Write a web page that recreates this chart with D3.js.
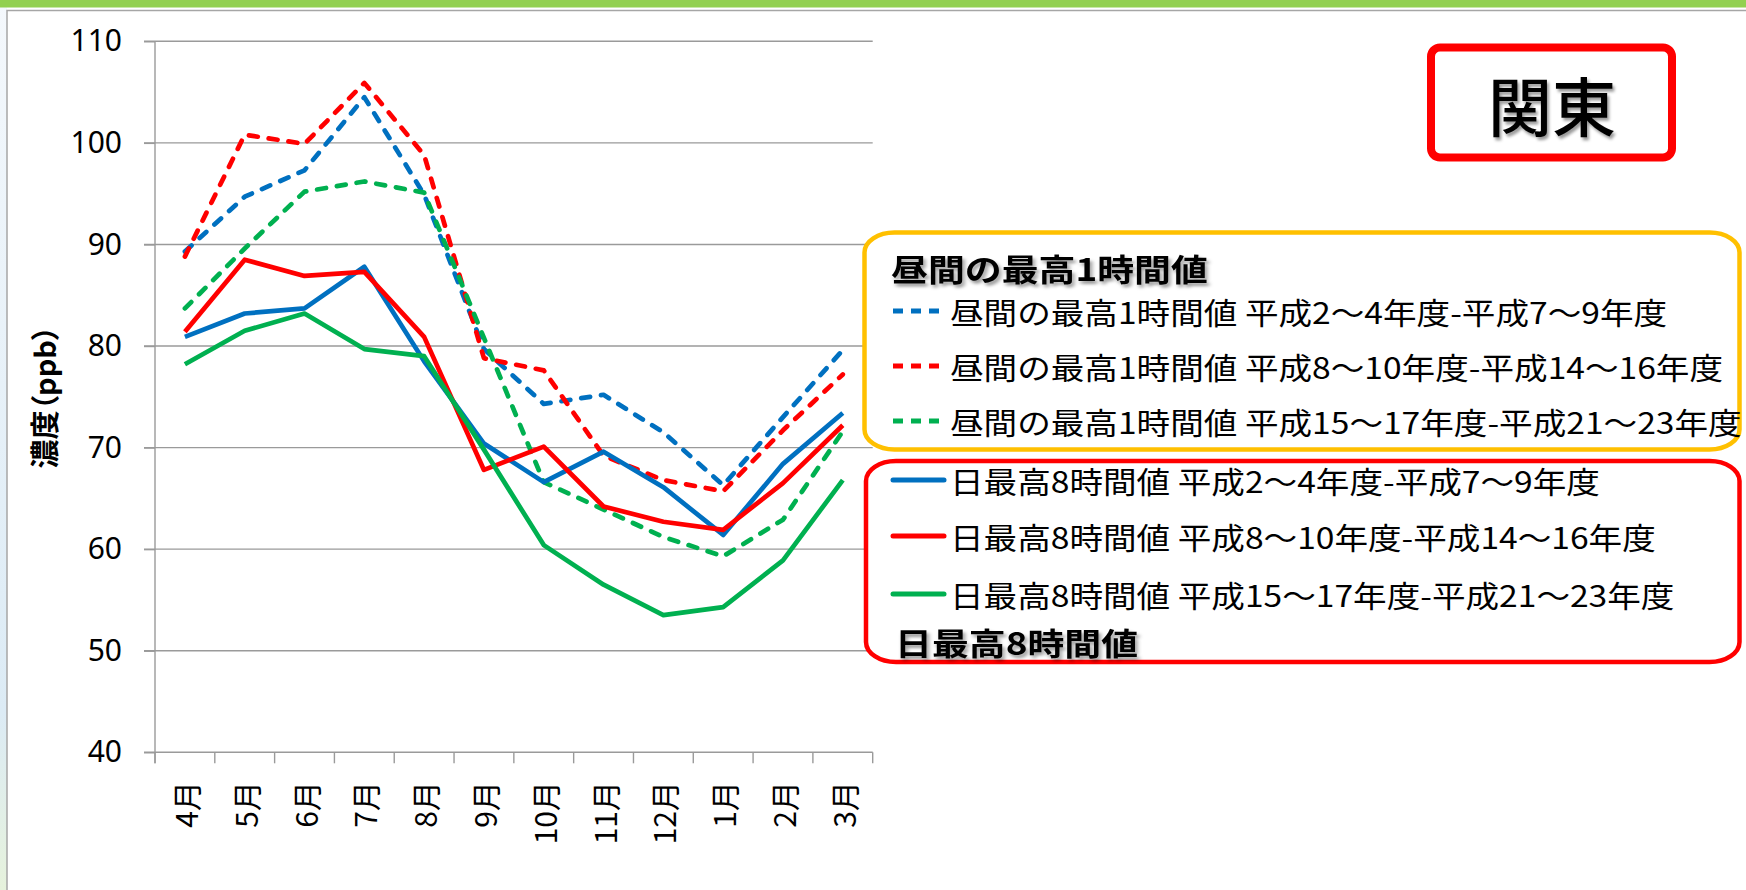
<!DOCTYPE html>
<html>
<head>
<meta charset="utf-8">
<script src="https://cdn.jsdelivr.net/npm/d3@7"></script>
<style>
  body { margin: 0; background: #fff; }
  svg { display: block; }
</style>
</head>
<body>
<script>
// months on the x axis (fiscal year order)
const months = ['4月', '5月', '6月', '7月', '8月', '9月', '10月', '11月', '12月', '1月', '2月', '3月'];

// 昼間の最高1時間値 (dashed)
const day1hH2to9 = [89.3, 94.7, 97.3, 104.5, 94.9, 79.7, 74.3, 75.2, 71.5, 66.3, 73.0, 79.6];
const day1hH8to16 = [88.8, 100.8, 99.9, 105.9, 98.8, 78.8, 77.6, 69.2, 66.8, 65.7, 71.7, 77.2];
const day1hH15to23 = [83.7, 89.6, 95.2, 96.2, 95.1, 80.8, 66.6, 63.9, 61.2, 59.3, 62.9, 71.6];

// 日最高8時間値 (solid)
const max8hH2to9 = [80.9, 83.2, 83.7, 87.8, 78.5, 70.4, 66.6, 69.6, 66.1, 61.4, 68.4, 73.4];
const max8hH8to16 = [81.4, 88.5, 86.9, 87.3, 80.9, 67.8, 70.1, 64.2, 62.7, 61.9, 66.5, 72.2];
const max8hH15to23 = [78.2, 81.5, 83.2, 79.7, 79.0, 69.8, 60.4, 56.5, 53.5, 54.3, 58.9, 66.8];

const yTicks = [40, 50, 60, 70, 80, 90, 100, 110];

const dayLabels = ['昼間の最高1時間値 平成2～4年度-平成7～9年度',
                   '昼間の最高1時間値 平成8～10年度-平成14～16年度',
                   '昼間の最高1時間値 平成15～17年度-平成21～23年度'];
const maxLabels = ['日最高8時間値 平成2～4年度-平成7～9年度',
                   '日最高8時間値 平成8～10年度-平成14～16年度',
                   '日最高8時間値 平成15～17年度-平成21～23年度'];
const colors = ['#0070C0', '#FF0000', '#00B050'];

const width = 1746, height = 890;
const plotLeft = 155, plotRight = 872.7, plotTop = 41.3, plotBottom = 752.3;
const cjk = '"Noto Sans CJK JP", "Noto Sans", sans-serif';

const svg = d3.select('body')
              .append('svg')
              .attr('width', width)
              .attr('height', height);

const defs = svg.append('defs');
defs.append('filter')
    .attr('id', 'shadow')
    .attr('x', '-10%').attr('y', '-30%').attr('width', '130%').attr('height', '160%')
    .append('feDropShadow')
    .attr('dx', 2).attr('dy', 3).attr('stdDeviation', 1.6)
    .attr('flood-color', '#000').attr('flood-opacity', 0.4);

const deco = defs.append('linearGradient').attr('id', 'deco').attr('x1', 0).attr('y1', 0).attr('x2', 0).attr('y2', 1);
deco.append('stop').attr('offset', '0%').attr('stop-color', '#f4f8fc');
deco.append('stop').attr('offset', '80%').attr('stop-color', '#dcebf5');
deco.append('stop').attr('offset', '100%').attr('stop-color', '#e6f2dc');

// slide background bits
svg.append('rect').attr('x', 0).attr('y', 0).attr('width', 7).attr('height', height).attr('fill', 'url(#deco)');
svg.append('rect').attr('x', 0).attr('y', 0).attr('width', width).attr('height', 7.5).attr('fill', '#92D050');
svg.append('rect').attr('x', 7).attr('y', 10.5).attr('width', width + 10).attr('height', height)
    .attr('fill', '#fff').attr('stroke', '#a6a6a6').attr('stroke-width', 1.5);

const x = d3.scaleBand()
            .domain(months)
            .range([plotLeft, plotRight])
            .padding(0);

const y = d3.scaleLinear()
            .domain([40, 110])
            .range([plotBottom, plotTop]);

// gridlines
svg.append('g')
    .selectAll('line')
    .data(yTicks)
    .enter()
    .append('line')
    .attr('x1', plotLeft - 11)
    .attr('x2', plotRight)
    .attr('y1', (d) => y(d))
    .attr('y2', (d) => y(d))
    .attr('stroke', '#9a9a9a')
    .attr('stroke-width', 1.4);

// y axis
const yAxis = svg.append('g')
    .attr('transform', 'translate(' + plotLeft + ',0)')
    .call(d3.axisLeft(y).tickValues(yTicks).tickSize(11).tickPadding(22));
yAxis.select('.domain').remove();
yAxis.selectAll('line').attr('stroke', '#9a9a9a').attr('stroke-width', 1.4);
yAxis.selectAll('text')
    .attr('fill', '#000')
    .style('font-family', '"Noto Sans", sans-serif')
    .style('font-size', '30px');

svg.append('line')
    .attr('x1', plotLeft).attr('x2', plotLeft)
    .attr('y1', plotTop).attr('y2', plotBottom + 11)
    .attr('stroke', '#9a9a9a').attr('stroke-width', 1.4);

// x axis ticks on band edges
svg.append('g')
    .selectAll('line')
    .data(months.concat(['end']))
    .enter()
    .append('line')
    .attr('x1', (d) => d === 'end' ? plotRight : x(d))
    .attr('x2', (d) => d === 'end' ? plotRight : x(d))
    .attr('y1', plotBottom)
    .attr('y2', plotBottom + 11)
    .attr('stroke', '#9a9a9a')
    .attr('stroke-width', 1.4);

svg.append('g')
    .selectAll('text')
    .data(months)
    .enter()
    .append('text')
    .attr('transform', (d) => 'translate(' + (x(d) + x.bandwidth() / 2) + ',' + 781 + ') rotate(-90)')
    .attr('text-anchor', 'end')
    .attr('dominant-baseline', 'central')
    .style('font-family', cjk)
    .style('font-size', '30px')
    .text((d) => d);

// y axis title
svg.append('text')
    .attr('transform', 'translate(43,397) rotate(-90)')
    .attr('text-anchor', 'middle')
    .attr('dominant-baseline', 'central')
    .style('font-family', cjk)
    .style('font-weight', 'bold')
    .style('font-size', '29px')
    .style('font-feature-settings', '"palt" 1')
    .text('濃度（ppb）');

// lines
const line = d3.line()
               .x((d, i) => x(months[i]) + x.bandwidth() / 2)
               .y((d) => y(d));

const series = [
    { values: day1hH2to9, color: colors[0], dash: true },
    { values: day1hH8to16, color: colors[1], dash: true },
    { values: day1hH15to23, color: colors[2], dash: true },
    { values: max8hH2to9, color: colors[0], dash: false },
    { values: max8hH8to16, color: colors[1], dash: false },
    { values: max8hH15to23, color: colors[2], dash: false }
];

svg.append('g')
    .selectAll('path')
    .data(series)
    .enter()
    .append('path')
    .attr('d', (d) => line(d.values))
    .attr('fill', 'none')
    .attr('stroke', (d) => d.color)
    .attr('stroke-width', 4.7)
    .attr('stroke-linejoin', 'round')
    .attr('stroke-linecap', (d) => d.dash ? 'round' : 'butt')
    .attr('stroke-dasharray', (d) => d.dash ? '9,11' : null);

// region title
svg.append('rect')
    .attr('x', 1431).attr('y', 47.5)
    .attr('width', 241).attr('height', 110)
    .attr('rx', 9)
    .attr('fill', '#fff')
    .attr('stroke', '#FF0000')
    .attr('stroke-width', 8);
svg.append('text')
    .attr('x', 1552).attr('y', 103)
    .attr('text-anchor', 'middle')
    .attr('dominant-baseline', 'central')
    .attr('filter', 'url(#shadow)')
    .style('font-family', cjk)
    .style('font-weight', 500)
    .style('font-size', '64px')
    .text('関東');

// legend boxes
svg.append('rect')
    .attr('x', 864.5).attr('y', 232.5)
    .attr('width', 875).attr('height', 217)
    .attr('rx', 30).attr('ry', 20)
    .attr('fill', '#fff')
    .attr('stroke', '#FFC000')
    .attr('stroke-width', 4.5);
svg.append('rect')
    .attr('x', 866).attr('y', 461)
    .attr('width', 873.5).attr('height', 201)
    .attr('rx', 30).attr('ry', 20)
    .attr('fill', '#fff')
    .attr('stroke', '#FF0000')
    .attr('stroke-width', 4.5);

const stretch = 1.12;

function legendTitle(tx, ty, label) {
    svg.append('text')
        .attr('transform', 'translate(' + tx + ',' + ty + ') scale(1.19,1)')
        .attr('dominant-baseline', 'central')
        .attr('filter', 'url(#shadow)')
        .style('font-family', cjk)
        .style('font-weight', 'bold')
        .style('font-size', '31px')
        .text(label);
}

function legendRows(labels, rowsY, dashed) {
    const g = svg.append('g');
    g.selectAll('line')
        .data(labels)
        .enter()
        .append('line')
        .attr('x1', 893).attr('x2', dashed ? 941 : 944)
        .attr('y1', (d, i) => rowsY[i])
        .attr('y2', (d, i) => rowsY[i])
        .attr('stroke', (d, i) => colors[i])
        .attr('stroke-width', 5)
        .attr('stroke-linecap', dashed ? 'butt' : 'round')
        .attr('stroke-dasharray', dashed ? '10,8' : null);
    g.selectAll('text')
        .data(labels)
        .enter()
        .append('text')
        .attr('transform', (d, i) => 'translate(950,' + rowsY[i] + ') scale(' + stretch + ',1)')
        .attr('dominant-baseline', 'central')
        .style('font-family', cjk)
        .style('font-size', '30px')
        .text((d) => d);
}

legendTitle(891, 267, '昼間の最高1時間値');
legendRows(dayLabels, [311, 366, 421], true);
legendRows(maxLabels, [480, 536, 594], false);
legendTitle(895, 641, '日最高8時間値');
</script>
</body>
</html>
